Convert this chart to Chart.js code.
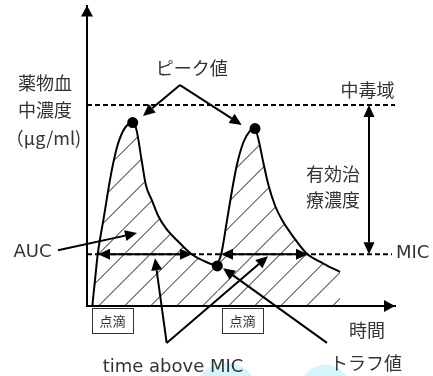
<!DOCTYPE html>
<html><head><meta charset="utf-8">
<script src="https://cdn.jsdelivr.net/npm/chart.js@4/dist/chart.umd.min.js"></script>
<style>html,body{margin:0;padding:0;background:#fff;}#wrap{width:433px;height:376px;}</style>
</head><body><div id="wrap"><canvas id="c" width="433" height="376"></canvas></div>
<script>
// ---- data (time in arbitrary units, concentration in arbitrary units) ----
const curve1Time = [0.53, 0.8, 1.07, 1.63, 2.47, 3.1, 3.8, 4.57, 4.97, 5.47, 5.9, 6.5, 7.1, 7.9, 9.1, 10.47, 11.97, 13.03];
const curve1Conc = [0, 2.6, 5.2, 8.6, 13.6, 16.3, 17.9, 18.43, 17.6, 14.6, 12.1, 10.6, 9.1, 7.8, 6.5, 5.2, 4.4, 4.03];
const curve2Time = [13.03, 13.47, 13.97, 14.47, 14.97, 15.63, 16.3, 16.8, 17.13, 17.63, 18.13, 18.8, 19.63, 20.6, 21.97, 23.63, 25.3];
const curve2Conc = [4.03, 5.43, 8.43, 11.43, 14.1, 16.43, 17.6, 17.83, 16.8, 14.43, 12.2, 10.1, 8.43, 7.0, 5.27, 4.27, 3.43];
const peakTime = [4.57, 16.8];
const peakConc = [18.43, 17.83];
const troughTime = [13.03];
const troughConc = [4.03];
const toxicLevel = 20.2;
const micLevel = 5.2;
const micStart = [1.1, 13.4];
const micEnd = [10.5, 22.1];
const infusionStart = [0.5, 13.5];
const infusionEnd = [4.6, 17.6];
const timeMax = 30.8;
const concMax = 30.2;

const pts = (xs, ys) => xs.map((x, i) => ({x, y: ys[i]}));

// hatch pattern
const tile = document.createElement('canvas');
tile.width = 26; tile.height = 26;
const tctx = tile.getContext('2d');
tctx.strokeStyle = '#111'; tctx.lineWidth = 1;
for (const c of [-11.5, 14.5, 40.5]) { tctx.beginPath(); tctx.moveTo(c - 30, 30); tctx.lineTo(c + 30, -30); tctx.stroke(); }
const hatch = document.getElementById('c').getContext('2d').createPattern(tile, 'repeat');

const JP = '"Noto Sans CJK JP", sans-serif';
const LAT = '"DejaVu Sans", sans-serif';
const INK = '#333';

function head(ctx, tip, from, len, hw) {
  const dx = tip[0] - from[0], dy = tip[1] - from[1];
  const d = Math.hypot(dx, dy), ux = dx / d, uy = dy / d;
  const bx = tip[0] - ux * len, by = tip[1] - uy * len;
  ctx.beginPath(); ctx.moveTo(tip[0], tip[1]);
  ctx.lineTo(bx - uy * hw, by + ux * hw); ctx.lineTo(bx + uy * hw, by - ux * hw);
  ctx.closePath(); ctx.fill();
  return [bx, by];
}
function arrow(ctx, from, to, both, len = 12, hw = 5.5) {
  ctx.lineWidth = 2; ctx.strokeStyle = '#000'; ctx.fillStyle = '#000';
  let a = from, b = to;
  b = head(ctx, to, from, len, hw);
  if (both) a = head(ctx, from, to, len, hw);
  ctx.beginPath(); ctx.moveTo(a[0], a[1]); ctx.lineTo(b[0], b[1]); ctx.stroke();
}

const annot = {
  id: 'annot',
  beforeDatasetsDraw(chart) {
    const ctx = chart.ctx, xs = chart.scales.x, ys = chart.scales.y;
    const P = (x, y) => [xs.getPixelForValue(x), ys.getPixelForValue(y)];
    ctx.save();
    ctx.fillStyle = '#d4f7fc';
    for (const [x, y, r] of [[13.9, -8.9, 32], [23.8, -8.4, 25]]) {
      const p = P(x, y); ctx.beginPath(); ctx.arc(p[0], p[1], r, 0, Math.PI * 2); ctx.fill();
    }
    ctx.restore();
  },
  afterDatasetsDraw(chart) {
    const ctx = chart.ctx, xs = chart.scales.x, ys = chart.scales.y;
    const P = (x, y) => [xs.getPixelForValue(x), ys.getPixelForValue(y)];
    ctx.save();
    ctx.fillStyle = '#000';
    // axis arrowheads
    head(ctx, P(0, concMax), P(0, 0), 11, 6);
    head(ctx, P(timeMax, 0), P(0, 0), 11, 6);
    // effective range
    arrow(ctx, P(28.2, toxicLevel), P(28.2, micLevel), true);
    // time above MIC spans
    for (let i = 0; i < micStart.length; i++) arrow(ctx, P(micStart[i], micLevel), P(micEnd[i], micLevel), true);
    // pointer arrows
    arrow(ctx, P(9.3, 22.2), P(5.6, 19.1));
    arrow(ctx, P(9.3, 22.2), P(15.47, 18.2));
    arrow(ctx, P(-2.9, 5.6), P(5.0, 7.33));
    arrow(ctx, P(7.97, -3.73), P(6.8, 4.8));
    arrow(ctx, P(7.97, -3.73), P(18.1, 5.0));
    arrow(ctx, P(24, -3.7), P(13.6, 3.8));
    // infusion boxes
    ctx.lineWidth = 1; ctx.strokeStyle = '#333';
    ctx.font = '13px ' + JP; ctx.textAlign = 'center'; ctx.textBaseline = 'middle';
    for (let i = 0; i < infusionStart.length; i++) {
      const a = P(infusionStart[i], -0.2), b = P(infusionEnd[i], -2.7);
      ctx.fillStyle = '#fff';
      ctx.fillRect(a[0], a[1], b[0] - a[0], b[1] - a[1]);
      ctx.strokeRect(Math.round(a[0]) + 0.5, Math.round(a[1]) + 0.5, Math.round(b[0] - a[0]), Math.round(b[1] - a[1]));
      ctx.fillStyle = INK;
      ctx.fillText('点滴', (a[0] + b[0]) / 2, (a[1] + b[1]) / 2 + 1);
    }
    // labels
    ctx.fillStyle = INK;
    const T = (s, x, y, font, align = 'center') => { const p = P(x, y); ctx.font = font; ctx.textAlign = align; ctx.fillText(s, p[0], p[1]); };
    T('薬物血', -4.2, 22.4, '18px ' + JP);
    T('中濃度', -4.2, 19.7, '18px ' + JP);
    T('（μg/ml)', -4.35, 16.9, '18px ' + JP);
    T('ピーク値', 10.47, 23.93, '18px ' + JP);
    T('中毒域', 28.05, 21.7, '18px ' + JP);
    T('有効治', 24.6, 13.3, '18px ' + JP);
    T('療濃度', 24.6, 10.6, '18px ' + JP);
    T('時間', 28.0, -2.4, '18px ' + JP);
    T('トラフ値', 27.9, -5.7, '18px ' + JP);
    T('MIC', 30.9, 5.3, '18px ' + LAT, 'left');
    T('AUC', -5.45, 5.4, '18px ' + LAT);
    T('time above MIC', 8.6, -6.2, '18px ' + LAT);
    ctx.restore();
  }
};

new Chart(document.getElementById('c'), {
  type: 'line',
  data: {
    datasets: [
      { data: pts(curve1Time, curve1Conc), borderColor: '#000', borderWidth: 2, pointRadius: 0, fill: 'origin', backgroundColor: hatch, cubicInterpolationMode: 'monotone', order: 2 },
      { data: pts(curve2Time, curve2Conc), borderColor: '#000', borderWidth: 2, pointRadius: 0, fill: 'origin', backgroundColor: hatch, cubicInterpolationMode: 'monotone', order: 2 },
      { data: pts(peakTime, peakConc), showLine: false, pointRadius: 5.5, pointBackgroundColor: '#000', pointBorderWidth: 0, order: 0 },
      { data: pts(troughTime, troughConc), showLine: false, pointRadius: 5.5, pointBackgroundColor: '#000', pointBorderWidth: 0, order: 0 },
      { data: [{x: 0, y: toxicLevel}, {x: timeMax, y: toxicLevel}], borderColor: '#000', borderWidth: 2, borderDash: [5, 3], pointRadius: 0, fill: false, order: 1 },
      { data: [{x: 0, y: micLevel}, {x: 30.5, y: micLevel}], borderColor: '#000', borderWidth: 2, borderDash: [5, 3], pointRadius: 0, fill: false, order: 1 }
    ]
  },
  options: {
    responsive: false, animation: false, events: [],
    layout: { padding: { left: 87, right: 38, top: 4, bottom: 70 } },
    plugins: { legend: { display: false }, tooltip: { enabled: false } },
    scales: {
      x: { type: 'linear', min: 0, max: timeMax, grid: { display: false, drawTicks: false }, ticks: { display: false }, border: { color: '#000', width: 2 } },
      y: { type: 'linear', min: 0, max: concMax, grid: { display: false, drawTicks: false }, ticks: { display: false }, border: { color: '#000', width: 2 } }
    }
  },
  plugins: [annot]
});
</script></body></html>
